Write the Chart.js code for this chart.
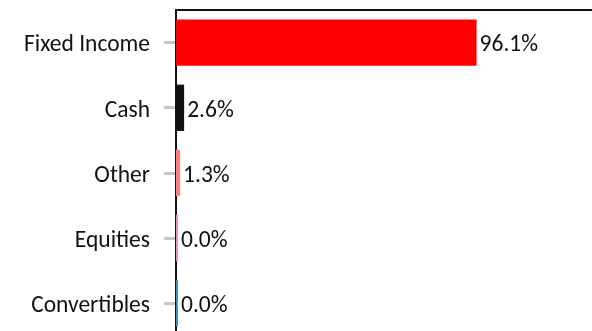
<!DOCTYPE html>
<html>
<head>
<meta charset="utf-8">
<script src="https://cdn.jsdelivr.net/npm/chart.js@4/dist/chart.umd.min.js"></script>
<style>
  html, body { margin: 0; padding: 0; background: #fff; overflow: hidden; }
  canvas { display: block; }
</style>
</head>
<body>
<canvas id="allocChart" width="592" height="336"></canvas>
<script>
"use strict";

const categories = ['Fixed Income', 'Cash', 'Other', 'Equities', 'Convertibles'];
const weights = [96.1, 2.6, 1.3, 0.0, 0.0];
const barColors = ['#ff0000', '#111111', '#ff8080', '#f48fb1', '#3d8fd1'];

const FONT = 'Carlito, Lato, "Open Sans", sans-serif';
const FONT_SIZE = 23.5;

// writes the percentage just past the end of each bar
const valueLabels = {
  id: 'valueLabels',
  afterDatasetsDraw(chart) {
    const ctx = chart.ctx;
    const meta = chart.getDatasetMeta(0);
    ctx.save();
    ctx.font = FONT_SIZE + 'px ' + FONT;
    ctx.fillStyle = '#111';
    ctx.textAlign = 'left';
    ctx.textBaseline = 'middle';
    meta.data.forEach((bar, i) => {
      ctx.fillText(weights[i].toFixed(1) + '%', bar.x + 3, bar.y + 3);
    });
    ctx.restore();
  }
};

const ctx = document.getElementById('allocChart').getContext('2d');
new Chart(ctx, {
  type: 'bar',
  data: {
    labels: categories,
    datasets: [{
      data: weights,
      backgroundColor: barColors,
      borderWidth: 0,
      minBarLength: 2,
      categoryPercentage: 1,
      barPercentage: 0.71
    }]
  },
  options: {
    indexAxis: 'y',
    responsive: false,
    animation: false,
    layout: { padding: 0 },
    plugins: {
      legend: { display: false },
      tooltip: { enabled: false }
    },
    scales: {
      x: {
        position: 'top',
        min: 0,
        max: 133,
        grid: { display: false },
        border: { display: true, color: '#111', width: 2 },
        ticks: { display: false },
        afterFit: s => { s.height = 10; }
      },
      y: {
        grid: {
          offset: false,
          drawOnChartArea: false,
          tickLength: 12,
          tickWidth: 3,
          tickColor: '#c3c7cb'
        },
        border: { display: true, color: '#111', width: 2 },
        ticks: {
          color: '#111',
          padding: 14,
          labelOffset: 3,
          font: { family: FONT, size: FONT_SIZE }
        },
        afterFit: s => {
          s.width = 176;
          s.paddingTop = 0;
          s.paddingBottom = 0;
        }
      }
    }
  },
  plugins: [valueLabels]
});
</script>
</body>
</html>
